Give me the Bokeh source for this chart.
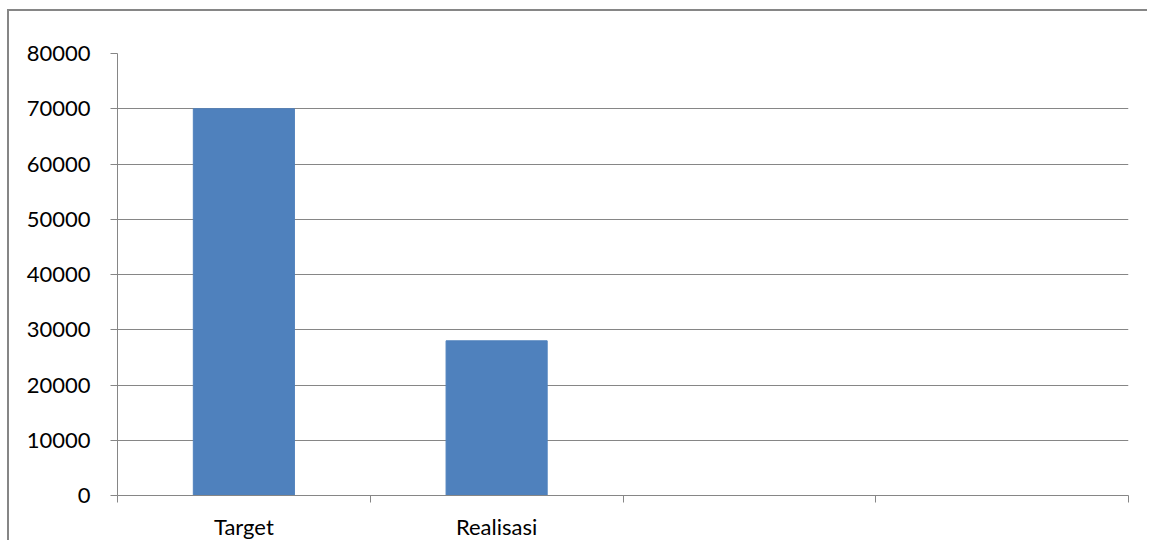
import numpy as np
from bokeh.plotting import figure
from bokeh.models import FixedTicker, Range1d
from bokeh.embed import file_html
from bokeh.resources import INLINE

categories = ["Target", "Realisasi", "", ""]
values = [70000, 28000, None, None]
y_ticks = [0, 10000, 20000, 30000, 40000, 50000, 60000, 70000, 80000]

GRAY = "#868686"
FONT = "Lato"

n = len(categories)
centers = [i + 0.5 for i in range(n)]
bar_x = [centers[i] for i, v in enumerate(values) if v is not None]
bar_top = [v for v in values if v is not None]

p = figure(width=1140, height=531, output_backend="svg", toolbar_location=None,
           x_range=Range1d(0, n), y_range=Range1d(0, 80000),
           min_border_left=108, min_border_top=42, min_border_right=21, min_border_bottom=44,
           margin=(9, 0, 0, 7),
           styles={"border-left": f"2px solid {GRAY}", "border-top": f"2px solid {GRAY}"})
p.outline_line_color = None
p.background_fill_color = "white"
p.border_fill_color = "white"

p.vbar(x=bar_x, top=bar_top, width=0.4, bottom=0, fill_color="#4F81BD", line_color="#4F81BD")

# y axis
p.yaxis.ticker = FixedTicker(ticks=y_ticks)
p.yaxis.axis_line_color = GRAY
p.yaxis.major_tick_line_color = GRAY
p.yaxis.major_tick_in = 0
p.yaxis.major_tick_out = 7
p.yaxis.minor_tick_line_color = None
p.yaxis.major_label_standoff = 20
p.yaxis.major_label_text_font = FONT
p.yaxis.major_label_text_font_size = "22px"
p.yaxis.major_label_text_color = "black"
p.yaxis.formatter.use_scientific = False

# x axis: labels at centers, tick marks at boundaries (minor ticks)
p.xaxis.ticker = FixedTicker(ticks=centers, minor_ticks=list(range(n + 1)))
p.xaxis.major_label_overrides = {c: lab for c, lab in zip(centers, categories)}
p.xaxis.axis_line_color = GRAY
p.xaxis.major_tick_line_color = None
p.xaxis.major_tick_in = 0
p.xaxis.major_tick_out = 0
p.xaxis.minor_tick_line_color = GRAY
p.xaxis.minor_tick_in = 0
p.xaxis.minor_tick_out = 7
p.xaxis.major_label_standoff = 10
p.xaxis.major_label_text_font = FONT
p.xaxis.major_label_text_font_size = "22px"
p.xaxis.major_label_text_color = "black"

p.xgrid.grid_line_color = None
p.ygrid.ticker = FixedTicker(ticks=y_ticks)
p.ygrid.grid_line_color = GRAY
p.ygrid.grid_line_alpha = 1.0

open("out.html", "w").write(file_html(p, INLINE))
